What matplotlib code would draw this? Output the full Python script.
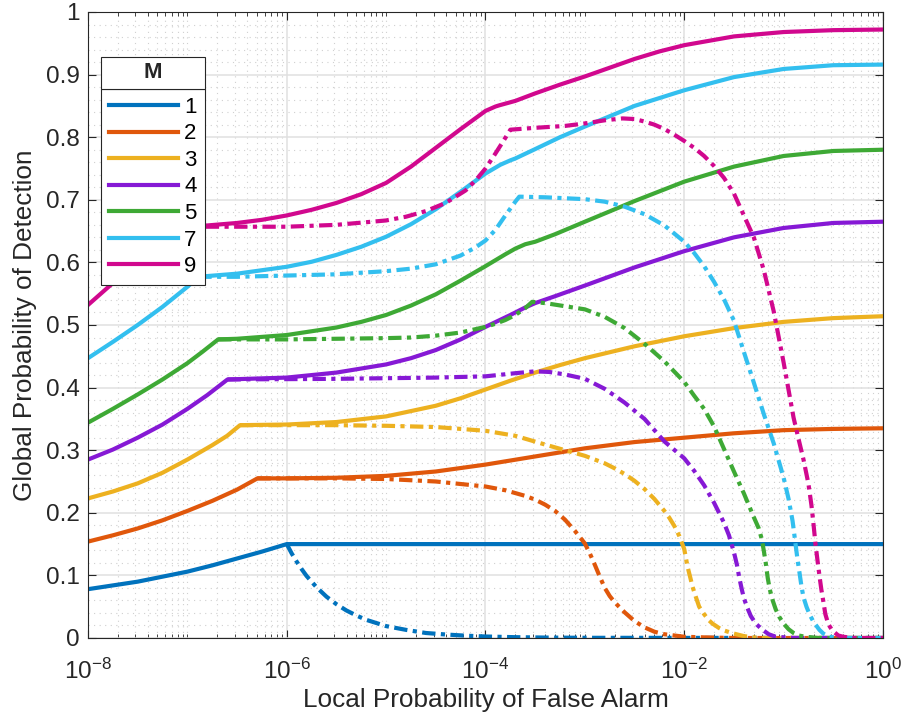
import numpy as np
import matplotlib.pyplot as plt
from matplotlib.ticker import (FixedLocator, LogLocator, LogFormatterSciNotation,
                               NullFormatter, MultipleLocator, FuncFormatter)
from matplotlib.patches import Rectangle
from matplotlib.transforms import IdentityTransform

plt.rcParams['font.family'] = ['Liberation Sans', 'DejaVu Sans']
plt.rcParams['mathtext.fontset'] = 'custom'
plt.rcParams['mathtext.rm'] = 'Liberation Sans'
plt.rcParams['axes.unicode_minus'] = False

# number of sensors M and line colours
m_values = [1, 2, 3, 4, 5, 7, 9]
colors = ['#0072BD', '#E0570B', '#EDB120', '#8619D5', '#3EA935', '#33BFEF', '#D1088E']

# x values are log10 of the local false alarm probability
m1_solid_exp = [-8, -7.75, -7.5, -7.25, -7.0, -6.75, -6.5, -6.25, -6.0, 0]
m1_solid_pd = [0.078, 0.084, 0.090, 0.098, 0.106, 0.116, 0.127, 0.138, 0.150, 0.150]
m1_dash_exp = [-6.0, -5.95, -5.9, -5.85, -5.8, -5.7, -5.6, -5.5, -5.4, -5.3, -5.2, -5.1, -5.0,
               -4.8, -4.6, -4.4, -4.2, -4.0, -3.7, -3.4, -3.0, 0]
m1_dash_pd = [0.150, 0.135, 0.122, 0.110, 0.099, 0.081, 0.066, 0.054, 0.044, 0.036, 0.029, 0.024, 0.019,
              0.013, 0.008, 0.0056, 0.0037, 0.0024, 0.0013, 0.0007, 0.0003, 0.0]

m2_solid_exp = [-8, -7.75, -7.5, -7.25, -7.0, -6.75, -6.5, -6.295, -6.0, -5.5, -5.0, -4.5, -4.0,
                -3.5, -3.0, -2.5, -2.0, -1.5, -1.0, -0.5, 0]
m2_solid_pd = [0.154, 0.164, 0.175, 0.188, 0.203, 0.219, 0.237, 0.255, 0.255, 0.256, 0.259, 0.266, 0.277,
               0.290, 0.303, 0.313, 0.320, 0.327, 0.332, 0.334, 0.335]
m2_dash_exp = [-6.295, -5.5, -5.0, -4.5, -4.0, -3.8, -3.6, -3.5, -3.4, -3.3, -3.2, -3.1, -3.0, -2.95, -2.9,
               -2.85, -2.8, -2.75, -2.7, -2.6, -2.5, -2.4, -2.3, -2.2, -2.1, -2.0, -1.8, -1.5, 0]
m2_dash_pd = [0.255, 0.255, 0.254, 0.250, 0.242, 0.236, 0.227, 0.221, 0.213, 0.203, 0.189, 0.171, 0.151, 0.135, 0.117,
              0.098, 0.080, 0.067, 0.057, 0.041, 0.027, 0.017, 0.010, 0.006, 0.004, 0.002, 0.001, 0.0, 0.0]

m3_solid_exp = [-8, -7.75, -7.5, -7.25, -7.0, -6.75, -6.6, -6.47, -6.0, -5.5, -5.0, -4.5, -4.25, -4.0,
                -3.75, -3.5, -3.25, -3.0, -2.5, -2.0, -1.5, -1.0, -0.5, 0]
m3_solid_pd = [0.223, 0.234, 0.247, 0.264, 0.285, 0.308, 0.323, 0.340, 0.341, 0.345, 0.354, 0.371, 0.383, 0.397,
               0.411, 0.424, 0.436, 0.447, 0.466, 0.482, 0.495, 0.505, 0.511, 0.514]
m3_dash_exp = [-6.47, -5.5, -5.0, -4.5, -4.0, -3.7, -3.4, -3.2, -3.0, -2.8, -2.7, -2.6, -2.5, -2.4, -2.3,
               -2.2, -2.15, -2.1, -2.05, -2.0, -1.967, -1.94, -1.917, -1.88, -1.85, -1.8, -1.75, -1.716,
               -1.65, -1.6, -1.5, -1.4, -1.3, -1.2, 0]
m3_dash_pd = [0.340, 0.340, 0.339, 0.337, 0.331, 0.323, 0.309, 0.300, 0.291, 0.279, 0.271, 0.262, 0.251, 0.238,
              0.222, 0.203, 0.192, 0.179, 0.163, 0.142, 0.114, 0.097, 0.082, 0.064, 0.050, 0.038, 0.028,
              0.023, 0.016, 0.012, 0.007, 0.003, 0.001, 0.0, 0.0]

m4_solid_exp = [-8, -7.75, -7.5, -7.25, -7.0, -6.8, -6.596, -6.0, -5.5, -5.0, -4.75, -4.5, -4.25, -4.0,
                -3.75, -3.6, -3.5, -3.3, -3.0, -2.5, -2.0, -1.5, -1.0, -0.5, 0]
m4_solid_pd = [0.285, 0.301, 0.320, 0.341, 0.366, 0.388, 0.413, 0.416, 0.424, 0.437, 0.447, 0.460, 0.477, 0.497,
               0.516, 0.528, 0.535, 0.546, 0.563, 0.592, 0.618, 0.640, 0.655, 0.663, 0.665]
m4_dash_exp = [-6.596, -5.5, -5.0, -4.5, -4.0, -3.7, -3.5, -3.36, -3.2, -3.0, -2.8, -2.6, -2.4, -2.2,
               -2.0, -1.9, -1.8, -1.7, -1.6, -1.55, -1.5, -1.47, -1.447, -1.42, -1.4, -1.37, -1.33,
               -1.28, -1.22, -1.15, -1.08, -0.9, 0]
m4_dash_pd = [0.413, 0.414, 0.415, 0.416, 0.418, 0.423, 0.426, 0.425, 0.421, 0.414, 0.398, 0.376, 0.350, 0.314,
              0.287, 0.267, 0.244, 0.216, 0.184, 0.164, 0.137, 0.117, 0.097, 0.077, 0.064, 0.050, 0.035,
              0.023, 0.014, 0.006, 0.002, 0.0, 0.0]

m5_solid_exp = [-8, -7.75, -7.5, -7.25, -7.0, -6.85, -6.69, -6.5, -6.0, -5.5, -5.25, -5.0, -4.75, -4.5,
                -4.25, -4.0, -3.8, -3.7, -3.6, -3.5, -3.3, -3.0, -2.5, -2.0, -1.5, -1.0, -0.5, 0]
m5_solid_pd = [0.344, 0.366, 0.389, 0.413, 0.439, 0.457, 0.477, 0.478, 0.484, 0.496, 0.505, 0.516, 0.531, 0.549,
               0.571, 0.594, 0.613, 0.622, 0.629, 0.633, 0.645, 0.665, 0.698, 0.729, 0.753, 0.770, 0.778, 0.780]
m5_dash_exp = [-6.69, -6.0, -5.5, -5.0, -4.75, -4.5, -4.25, -4.0, -3.9, -3.8, -3.7, -3.6, -3.53, -3.4,
               -3.2, -3.0, -2.8, -2.6, -2.4, -2.2, -2.0, -1.9, -1.8, -1.7, -1.6, -1.5, -1.4, -1.3, -1.25,
               -1.22, -1.2, -1.18, -1.16, -1.14, -1.11, -1.08, -1.045, -1.0, -0.95, -0.9, -0.85, -0.78,
               -0.65, 0]
m5_dash_pd = [0.477, 0.477, 0.478, 0.479, 0.480, 0.483, 0.488, 0.497, 0.502, 0.508, 0.516, 0.527, 0.537, 0.535,
              0.530, 0.525, 0.513, 0.495, 0.470, 0.442, 0.409, 0.387, 0.366, 0.338, 0.302, 0.266, 0.231,
              0.193, 0.175, 0.158, 0.140, 0.120, 0.096, 0.078, 0.060, 0.046, 0.034, 0.023, 0.014, 0.008,
              0.004, 0.002, 0.0, 0.0]

m7_solid_exp = [-8, -7.75, -7.5, -7.25, -7.0, -6.89, -6.5, -6.0, -5.75, -5.5, -5.25, -5.0, -4.75, -4.5,
                -4.25, -4.0, -3.85, -3.75, -3.7, -3.5, -3.25, -3.0, -2.5, -2.0, -1.5, -1.0, -0.5, 0]
m7_solid_pd = [0.447, 0.473, 0.500, 0.529, 0.561, 0.577, 0.582, 0.593, 0.601, 0.612, 0.625, 0.641, 0.661, 0.685,
               0.713, 0.742, 0.756, 0.763, 0.766, 0.781, 0.800, 0.817, 0.850, 0.875, 0.896, 0.909, 0.915, 0.916]
m7_dash_exp = [-6.89, -6.5, -6.0, -5.5, -5.0, -4.75, -4.5, -4.25, -4.1, -4.0, -3.9, -3.8, -3.7, -3.66,
               -3.4, -3.0, -2.8, -2.6, -2.4, -2.2, -2.0, -1.9, -1.8, -1.7, -1.6, -1.5, -1.45, -1.4, -1.3,
               -1.2, -1.1, -1.0, -0.95, -0.91, -0.88, -0.86, -0.84, -0.82, -0.8, -0.77, -0.74, -0.7,
               -0.64, -0.6, -0.54, -0.45, 0]
m7_dash_pd = [0.577, 0.577, 0.579, 0.581, 0.586, 0.590, 0.597, 0.611, 0.624, 0.635, 0.652, 0.675, 0.697, 0.705,
              0.704, 0.701, 0.697, 0.689, 0.677, 0.659, 0.633, 0.615, 0.594, 0.569, 0.541, 0.507, 0.482,
              0.457, 0.408, 0.358, 0.311, 0.256, 0.222, 0.187, 0.150, 0.125, 0.104, 0.082, 0.065, 0.050,
              0.038, 0.026, 0.013, 0.007, 0.002, 0.0, 0.0]

m9_solid_exp = [-8, -7.75, -7.5, -7.3, -7.1, -6.8, -6.5, -6.25, -6.0, -5.75, -5.5, -5.25, -5.0, -4.75,
                -4.5, -4.25, -4.0, -3.9, -3.86, -3.7, -3.5, -3.25, -3.0, -2.75, -2.5, -2.25, -2.0, -1.5,
                -1.0, -0.5, 0]
m9_solid_pd = [0.532, 0.567, 0.601, 0.630, 0.657, 0.659, 0.663, 0.668, 0.675, 0.684, 0.695, 0.709, 0.727, 0.753,
               0.783, 0.813, 0.842, 0.849, 0.851, 0.858, 0.870, 0.884, 0.897, 0.911, 0.925, 0.937, 0.947, 0.961,
               0.968, 0.971, 0.972]
m9_dash_exp = [-7.1, -6.5, -6.0, -5.5, -5.0, -4.8, -4.6, -4.4, -4.2, -4.1, -4.0, -3.9, -3.8, -3.75,
               -3.5, -3.2, -3.0, -2.8, -2.62, -2.5, -2.4, -2.3, -2.2, -2.1, -2.0, -1.9, -1.8, -1.7, -1.6,
               -1.5, -1.4, -1.3, -1.2, -1.1, -1.0, -0.9, -0.85, -0.8, -0.75, -0.72, -0.7, -0.68, -0.66,
               -0.64, -0.62, -0.6, -0.58, -0.55, -0.51, -0.45, -0.4, -0.3, 0]
m9_dash_pd = [0.657, 0.657, 0.657, 0.660, 0.667, 0.673, 0.682, 0.695, 0.715, 0.731, 0.750, 0.774, 0.799, 0.812,
              0.815, 0.818, 0.822, 0.827, 0.830, 0.829, 0.825, 0.820, 0.813, 0.804, 0.794, 0.783, 0.770,
              0.754, 0.735, 0.710, 0.675, 0.640, 0.588, 0.522, 0.440, 0.352, 0.318, 0.285, 0.246, 0.212,
              0.183, 0.151, 0.125, 0.100, 0.077, 0.058, 0.038, 0.022, 0.012, 0.004, 0.002, 0.0, 0.0]

curves = [
    (m1_solid_exp, m1_solid_pd, m1_dash_exp, m1_dash_pd),
    (m2_solid_exp, m2_solid_pd, m2_dash_exp, m2_dash_pd),
    (m3_solid_exp, m3_solid_pd, m3_dash_exp, m3_dash_pd),
    (m4_solid_exp, m4_solid_pd, m4_dash_exp, m4_dash_pd),
    (m5_solid_exp, m5_solid_pd, m5_dash_exp, m5_dash_pd),
    (m7_solid_exp, m7_solid_pd, m7_dash_exp, m7_dash_pd),
    (m9_solid_exp, m9_solid_pd, m9_dash_exp, m9_dash_pd),
]

fig = plt.figure(figsize=(9.04, 7.17), dpi=100)
ax = fig.add_axes([88/904, 79/717, 795/904, 626/717])

for m, col, (se, sp, de, dp) in zip(m_values, colors, curves):
    ax.plot(10.0**np.array(se), sp, '-', color=col, lw=3, label=str(m))
    ax.plot(10.0**np.array(de), dp, color=col, lw=3, dashes=(3.2, 1.3, 1, 1.3))

ax.set_xscale('log')
ax.set_xlim(1e-8, 1)
ax.set_ylim(0, 1)
ax.xaxis.set_major_locator(FixedLocator([1e-8, 1e-6, 1e-4, 1e-2, 1]))
ax.xaxis.set_major_formatter(LogFormatterSciNotation())
ax.xaxis.set_minor_locator(LogLocator(base=10, subs=np.arange(1, 10), numticks=100))
ax.xaxis.set_minor_formatter(NullFormatter())
ax.yaxis.set_major_locator(MultipleLocator(0.1))
ax.yaxis.set_minor_locator(MultipleLocator(0.02))
ax.yaxis.set_major_formatter(FuncFormatter(lambda v, p: f'{v:g}'))

ax.set_axisbelow(True)
ax.grid(which='major', color='#e0e0e0', lw=1.1)
ax.grid(which='minor', color='#d0d0d0', ls=(0, (1, 4)), lw=0.8)
ax.tick_params(which='both', direction='in', top=True, right=True, colors='#262626', labelsize=17.5)
ax.tick_params(which='major', length=6, width=0.8)
ax.tick_params(axis='x', which='minor', length=3, width=0.6)
ax.tick_params(axis='y', which='minor', length=0)
ax.tick_params(axis='x', pad=15)
ax.tick_params(axis='y', pad=6)
for s in ax.spines.values():
    s.set_color('#262626')
    s.set_linewidth(0.8)

ax.set_xlabel('Local Probability of False Alarm', fontsize=18.8, color='#262626', labelpad=3)
ax.set_ylabel('Global Probability of Detection', fontsize=18.8, color='#262626', labelpad=6)

leg = ax.legend(loc='upper left', bbox_to_anchor=(13/795, 549/626),
                fontsize=16, frameon=True, fancybox=False, edgecolor='#262626', framealpha=1,
                handlelength=3.1, handletextpad=0.3, labelspacing=0.25,
                borderpad=0.35, borderaxespad=0)
leg.get_frame().set_linewidth(0.8)

# title box "M" sitting on top of the legend frame
fig.canvas.draw()
lb = leg.get_window_extent(fig.canvas.get_renderer())
title_h = 32
fig.add_artist(Rectangle((lb.x0, lb.y1), lb.width, title_h, transform=IdentityTransform(),
                         facecolor='white', edgecolor='#262626', lw=0.8))
fig.text((lb.x0 + lb.x1) / 2 / fig.bbox.width, (lb.y1 + title_h / 2) / fig.bbox.height, 'M',
         ha='center', va='center', fontsize=16, fontweight='bold', color='#262626')

fig.savefig('out.png', dpi=100)
